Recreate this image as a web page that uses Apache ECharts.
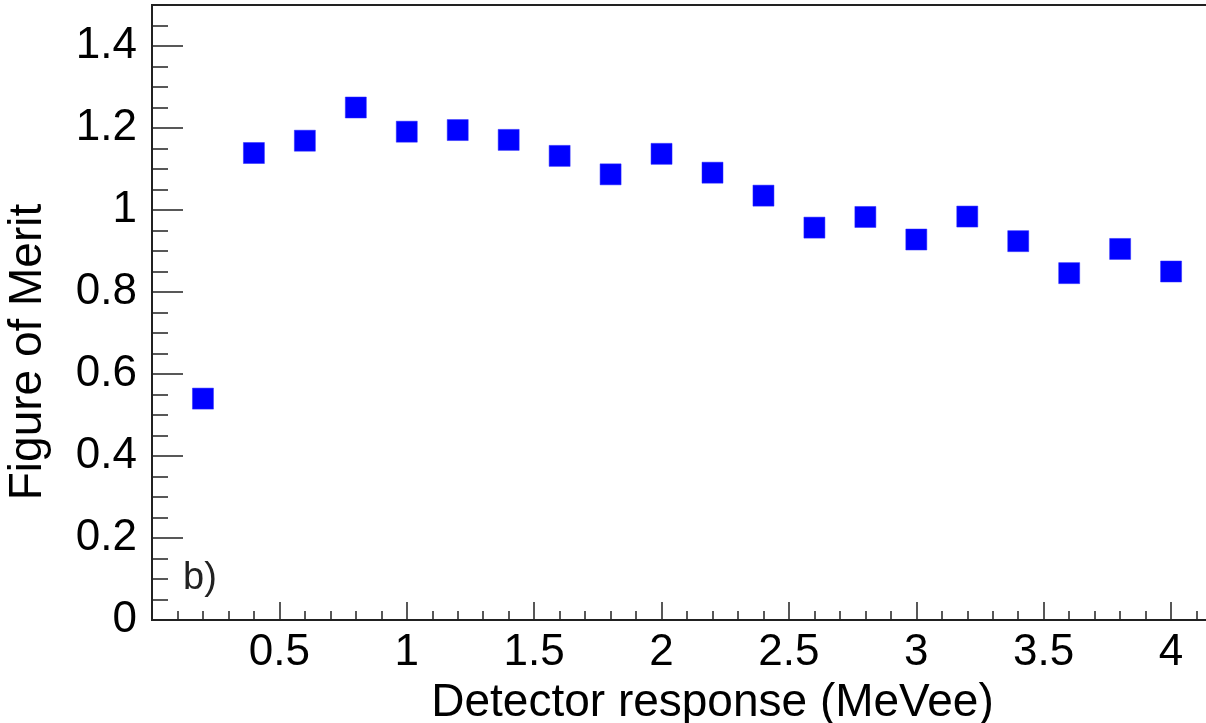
<!DOCTYPE html>
<html>
<head>
<meta charset="utf-8">
<script src="https://cdn.jsdelivr.net/npm/echarts@6/dist/echarts.min.js"></script>
<style>
html,body{margin:0;padding:0;background:#fff;overflow:hidden;}
#chart{width:1206px;height:723px;}
</style>
</head>
<body>
<div id="chart"></div>
<script>
// Data
const energies = [0.2, 0.4, 0.6, 0.8, 1.0, 1.2, 1.4, 1.6, 1.8, 2.0, 2.2, 2.4, 2.6, 2.8, 3.0, 3.2, 3.4, 3.6, 3.8, 4.0];
const fom = [0.540, 1.139, 1.169, 1.250, 1.191, 1.195, 1.171, 1.132, 1.087, 1.137, 1.091, 1.035, 0.957, 0.983, 0.928, 0.984, 0.924, 0.846, 0.905, 0.850];
const xTitle = 'Detector response (MeVee)';
const yTitle = 'Figure of Merit';
const panelLabel = 'b)';

const FONT = '"Liberation Sans", Arial, Helvetica, sans-serif';
const INK = '#000';

const chart = echarts.init(document.getElementById('chart'), null, {renderer: 'canvas'});
const points = energies.map((e, i) => [e, fom[i]]);

chart.setOption({
  animation: false,
  backgroundColor: '#fff',
  grid: {
    left: 152, top: 5, width: 1121, bottom: 103,
    outerBoundsMode: 'none', containLabel: false,
    show: true, borderColor: '#222', borderWidth: 2, backgroundColor: 'transparent'
  },
  xAxis: [
    {
      type: 'value', min: 0, max: 4.4, interval: 0.5,
      name: xTitle, nameLocation: 'middle', nameGap: 57,
      nameTextStyle: {fontFamily: FONT, fontSize: 46, color: INK, lineHeight: 46},
      axisLine: {show: true, onZero: false, lineStyle: {color: '#222', width: 1.5}},
      axisTick: {show: true, inside: true, length: 18, lineStyle: {color: '#222', width: 1.5}},
      axisLabel: {show: true, margin: 11, fontFamily: FONT, fontSize: 44, color: INK, lineHeight: 44,
                  showMinLabel: false, showMaxLabel: false},
      splitLine: {show: false}
    },
    {
      type: 'value', min: 0, max: 4.4, interval: 0.1, position: 'bottom',
      axisLine: {show: false, onZero: false},
      axisTick: {show: true, inside: true, length: 9, lineStyle: {color: '#222', width: 1.5}},
      axisLabel: {show: false},
      splitLine: {show: false}
    }
  ],
  yAxis: [
    {
      type: 'value', min: 0, max: 1.5, interval: 0.2,
      name: yTitle, nameLocation: 'middle', nameGap: 101,
      nameTextStyle: {fontFamily: FONT, fontSize: 46, color: INK, lineHeight: 46, padding: [0, 79, 0, 0]},
      axisLine: {show: true, onZero: false, lineStyle: {color: '#222', width: 1.5}},
      axisTick: {show: true, inside: true, length: 31, lineStyle: {color: '#222', width: 1.5}},
      axisLabel: {show: true, margin: 15, fontFamily: FONT, fontSize: 44, color: INK, showMaxLabel: false},
      splitLine: {show: false}
    },
    {
      type: 'value', min: 0, max: 1.5, interval: 0.05, position: 'left',
      axisLine: {show: false, onZero: false},
      axisTick: {show: true, inside: true, length: 16, lineStyle: {color: '#222', width: 1.5}},
      axisLabel: {show: false},
      splitLine: {show: false}
    }
  ],
  graphic: [
    {
      type: 'text', left: 183, top: 560, silent: true,
      style: {text: panelLabel, font: '38px ' + FONT, fill: '#222'}
    }
  ],
  series: [
    {
      type: 'scatter', xAxisIndex: 0, yAxisIndex: 0,
      symbol: 'rect', symbolSize: 21,
      itemStyle: {color: '#0000ff', borderColor: '#2a2aff', borderWidth: 0.5, opacity: 1},
      data: points
    }
  ]
});
</script>
</body>
</html>
